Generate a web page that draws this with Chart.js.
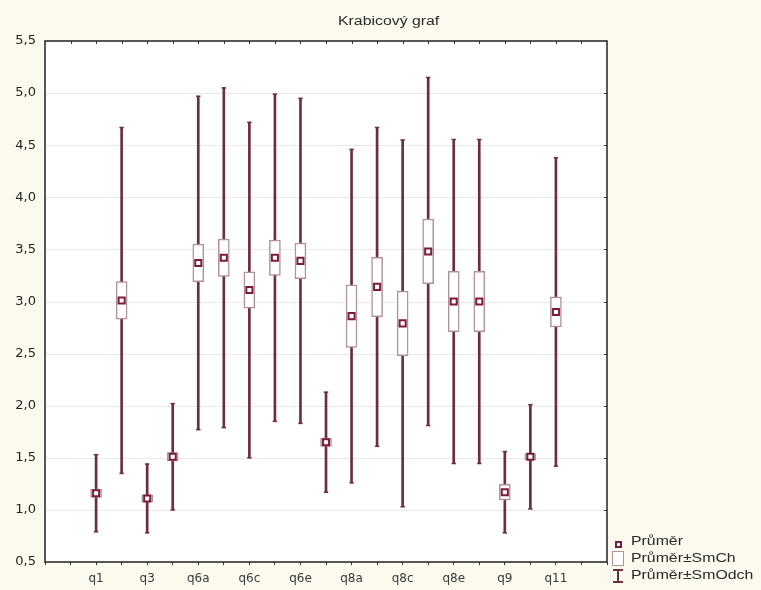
<!DOCTYPE html>
<html>
<head>
<meta charset="utf-8">
<script src="https://cdn.jsdelivr.net/npm/chart.js@4"></script>
<style>
  html, body { margin: 0; padding: 0; background: #fcf9ee; }
  #wrap { position: relative; width: 761px; height: 590px; overflow: hidden; }
  #chart { position: absolute; left: 0; top: 0; }
  .txt { position: absolute; font: 12px "Liberation Sans", Arial, sans-serif; color: #2a2a2a;
         transform: scaleX(1.32); transform-origin: left center; white-space: nowrap; line-height: 14px; }
  .sym { position: absolute; box-sizing: border-box; }
</style>
</head>
<body>
<div id="wrap">
  <canvas id="chart" width="761" height="590"></canvas>
  <div class="txt" style="left:338px; top:14px;">Krabicový graf</div>

  <!-- legend -->
  <div class="sym" style="left:615px; top:541px; width:7px; height:7px; border:2px solid #7a1d3c; background:#fff;"></div>
  <div class="txt" style="left:631px; top:534px;">Průměr</div>
  <div class="sym" style="left:612px; top:551px; width:12px; height:15px; border:1.5px solid #b3909d; background:#fff;"></div>
  <div class="txt" style="left:631px; top:551px;">Průměr±SmCh</div>
  <div class="sym" style="left:617px; top:569px; width:2px; height:14px; background:#6e2c42;"></div>
  <div class="sym" style="left:613px; top:569px; width:10px; height:2px; background:#6e2c42;"></div>
  <div class="sym" style="left:613px; top:581px; width:10px; height:2px; background:#6e2c42;"></div>
  <div class="txt" style="left:631px; top:568px;">Průměr±SmOdch</div>
</div>

<script>
/* ── DATA ── */
const categories = ['q1','q2','q3','q4','q6a','q6b','q6c','q6d','q6e','q6f',
                    'q8a','q8b','q8c','q8d','q8e','q8f','q9','q10','q11'];
const means  = [1.16, 3.01, 1.11, 1.51, 3.37, 3.42, 3.11, 3.42, 3.39, 1.65,
                2.86, 3.14, 2.79, 3.48, 3.00, 3.00, 1.17, 1.51, 2.90];
const stdErr = [0.04, 0.18, 0.035, 0.04, 0.18, 0.18, 0.175, 0.17, 0.17, 0.04,
                0.30, 0.285, 0.31, 0.31, 0.29, 0.29, 0.075, 0.03, 0.145];
const stdDev = [0.37, 1.66, 0.33, 0.51, 1.60, 1.63, 1.61, 1.57, 1.56, 0.48,
                1.60, 1.53, 1.76, 1.67, 1.555, 1.555, 0.39, 0.50, 1.48];
const yMin = 0.5, yMax = 5.5, yStep = 0.5;
const xMin = 0, xMax = 22;   // categories sit at 2..20

/* ── BUILD ── */
const xOf = i => i + 2;
const whiskers = categories.map((c, i) => ({ x: xOf(i), y: [means[i] - stdDev[i], means[i] + stdDev[i]] }));
const boxes    = categories.map((c, i) => ({ x: xOf(i), y: [means[i] - stdErr[i], means[i] + stdErr[i]] }));
const caps     = categories.flatMap((c, i) => [
  { x: xOf(i), y: means[i] - stdDev[i] }, { x: xOf(i), y: means[i] + stdDev[i] }
]);
const meanPts  = categories.map((c, i) => ({ x: xOf(i), y: means[i] }));
const tickLabel = v => {
  const i = v - 2;
  return (i >= 0 && i < categories.length && i % 2 === 0) ? categories[i] : '';
};

const plotFrame = {
  id: 'plotFrame',
  beforeDatasetsDraw(chart) {
    const { ctx, chartArea: a } = chart;
    ctx.save();
    ctx.fillStyle = '#ffffff';
    ctx.fillRect(a.left, a.top, a.right - a.left, a.bottom - a.top);
    // faint horizontal grid over the white fill
    const y = chart.scales.y;
    ctx.strokeStyle = '#ece8e8';
    ctx.lineWidth = 1;
    for (let v = yMin + yStep; v < yMax; v += yStep) {
      const py = Math.round(y.getPixelForValue(v)) + 0.5;
      ctx.beginPath(); ctx.moveTo(a.left, py); ctx.lineTo(a.right, py); ctx.stroke();
    }
    ctx.restore();
  },
  afterDraw(chart) {
    const { ctx, chartArea: a } = chart;
    const x = chart.scales.x, y = chart.scales.y;
    ctx.save();
    ctx.strokeStyle = '#333';
    ctx.lineWidth = 1;
    // small inward tick marks along top and right edges
    for (let v = xMin + 1; v < xMax; v++) {
      const px = Math.round(x.getPixelForValue(v)) + 0.5;
      ctx.beginPath(); ctx.moveTo(px, a.top); ctx.lineTo(px, a.top + 3); ctx.stroke();
    }
    for (let v = yMin + yStep; v < yMax; v += yStep) {
      const py = Math.round(y.getPixelForValue(v)) + 0.5;
      ctx.beginPath(); ctx.moveTo(a.right, py); ctx.lineTo(a.right - 3, py); ctx.stroke();
    }
    ctx.strokeStyle = '#222';
    ctx.lineWidth = 1.5;
    ctx.strokeRect(a.left, a.top, a.right - a.left, a.bottom - a.top);
    ctx.restore();
  }
};

new Chart(document.getElementById('chart'), {
  type: 'bar',
  data: {
    datasets: [
      { type: 'scatter', data: meanPts, pointStyle: 'rect', pointRadius: 4.3,
        backgroundColor: '#ffffff', borderColor: '#7a1d3c', borderWidth: 2, order: 1 },
      { type: 'bar', data: boxes, backgroundColor: '#ffffff', borderColor: '#b3909d',
        borderWidth: 1.5, borderSkipped: false, barThickness: 11, grouped: false, order: 2 },
      { type: 'scatter', data: caps, pointStyle: 'line', pointRadius: 2.2,
        borderColor: '#6e2c42', borderWidth: 1.5, order: 3 },
      { type: 'bar', data: whiskers, backgroundColor: '#6e2c42', borderWidth: 0,
        barThickness: 2, grouped: false, order: 4 }
    ]
  },
  options: {
    responsive: false,
    animation: false,
    layout: { padding: { top: 41, right: 154, bottom: 0, left: 0 } },
    plugins: { legend: { display: false }, tooltip: { enabled: false } },
    scales: {
      x: {
        type: 'linear', min: xMin, max: xMax, offset: false,
        grid: { display: true, drawOnChartArea: false, drawTicks: true, tickLength: 3, color: '#333', offset: false },
        border: { display: false },
        afterFit: s => { s.height = 28; },
        ticks: {
          stepSize: 1, autoSkip: false, maxRotation: 0, padding: 7,
          font: { family: 'DejaVu Sans', size: 12 }, color: '#3a3a3a',
          callback: v => tickLabel(v)
        }
      },
      y: {
        min: yMin, max: yMax,
        grid: { display: false, drawTicks: false },
        border: { display: false },
        afterFit: s => { s.width = 45; },
        ticks: {
          stepSize: yStep, padding: 9,
          font: { family: 'DejaVu Sans', size: 13 }, color: '#1e1e1e',
          callback: v => v.toFixed(1).replace('.', ',')
        }
      }
    }
  },
  plugins: [plotFrame]
});
</script>
</body>
</html>
